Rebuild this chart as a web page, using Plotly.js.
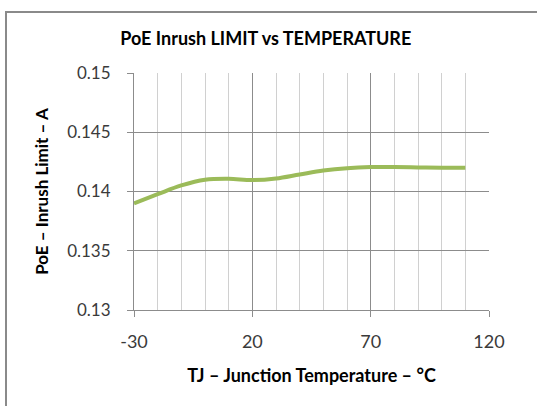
<!DOCTYPE html>
<html>
<head>
<meta charset="utf-8">
<script src="https://cdn.plot.ly/plotly-3.0.1.min.js"></script>
<style>
  html, body { margin: 0; padding: 0; background: #fff; overflow: hidden; }
  #chart { position: absolute; left: 0; top: 0; width: 537px; height: 406px; }
  #frame { position: absolute; left: 5px; top: 11px; width: 600px; height: 500px;
           border-left: 2px solid #8a8a8a; border-top: 2px solid #8a8a8a; pointer-events: none; }
</style>
</head>
<body>
<div id="chart"></div>
<div id="frame"></div>
<script>
// Junction temperature (°C)
const temperature = [-30, -20, -10, 0, 10, 20, 30, 40, 50, 60, 70, 80, 90, 100, 110];
// PoE inrush limit (A)
const inrushLimit = [0.1390, 0.13977, 0.14051, 0.14099, 0.14107, 0.14096, 0.14110, 0.14144,
                     0.14177, 0.14197, 0.14206, 0.14206, 0.14203, 0.14200, 0.14200];

// Axis tick labels
const xTickVals = [-30, 20, 70, 120];
const xTickText = ['-30', '20', '70', '120'];
const yTickVals = [0.13, 0.135, 0.14, 0.145, 0.15];
const yTickText = ['0.13', '0.135', '0.14', '0.145', '0.15'];

const chartTitle = 'PoE Inrush LIMIT vs TEMPERATURE';
const xTitle = 'TJ \u2013 Junction Temperature \u2013 \u00B0C';
const yTitle = 'PoE \u2013 Inrush Limit \u2013 A';

const FONT = 'Lato, "Open Sans", "DejaVu Sans", sans-serif';

const trace = {
  x: temperature,
  y: inrushLimit,
  type: 'scatter',
  mode: 'lines',
  line: { color: '#9BBB59', width: 4, shape: 'spline', smoothing: 1 },
  hoverinfo: 'skip'
};

const layout = {
  width: 537,
  height: 406,
  margin: { l: 134, r: 48, t: 73, b: 96 },
  paper_bgcolor: '#ffffff',
  plot_bgcolor: '#ffffff',
  showlegend: false,
  font: { family: FONT, color: '#3a3a3a', size: 18 },
  title: {
    text: chartTitle,
    font: { family: FONT, size: 18, color: '#000000', weight: 'bold' },
    xref: 'container', yref: 'container',
    x: 0.495, y: 1 - 39 / 406, xanchor: 'center', yanchor: 'middle'
  },
  xaxis: {
    range: [-30, 120],
    tickmode: 'array', tickvals: xTickVals, ticktext: xTickText,
    showgrid: true, gridcolor: '#8c8c8c', gridwidth: 1,
    minor: { tickmode: 'linear', tick0: -30, dtick: 10, showgrid: true, gridcolor: '#d0d0d0', gridwidth: 1, ticks: '' },
    showline: true, linecolor: '#8c8c8c', linewidth: 1,
    ticks: 'outside', ticklen: 6, tickcolor: '#8c8c8c',
    ticklabelstandoff: 9,
    zeroline: false,
    tickfont: { family: FONT, size: 18, color: '#3a3a3a' },
    title: { text: xTitle, standoff: 18, font: { family: FONT, size: 18, color: '#000000', weight: 'bold' } },
    fixedrange: true
  },
  yaxis: {
    range: [0.13, 0.15],
    tickmode: 'array', tickvals: yTickVals, ticktext: yTickText,
    showgrid: true, gridcolor: '#8c8c8c', gridwidth: 1,
    showline: true, linecolor: '#8c8c8c', linewidth: 1,
    ticks: 'outside', ticklen: 6, tickcolor: '#8c8c8c',
    ticklabelstandoff: 13,
    zeroline: false,
    tickfont: { family: FONT, size: 17, color: '#3a3a3a' },
    title: { text: yTitle, standoff: 14, font: { family: FONT, size: 17, color: '#000000', weight: 'bold' } },
    fixedrange: true
  }
};

Plotly.newPlot('chart', [trace], layout, { displayModeBar: false, staticPlot: true });
</script>
</body>
</html>
